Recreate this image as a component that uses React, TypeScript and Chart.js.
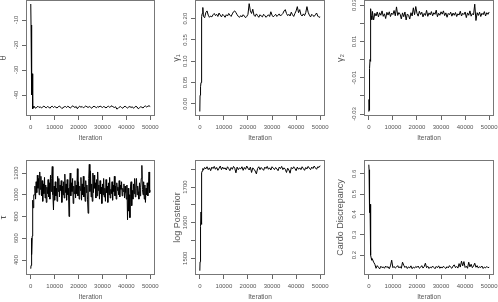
import React, { useEffect, useRef } from 'react';
import { Chart, registerables } from 'chart.js';
Chart.register(...registerables);

const W = 498;
const H = 302;
const FONT = "'Liberation Sans', Arial, Helvetica, sans-serif";
const TEXT = '#555';
const BOX = '#777';

// iteration index: dense during burn-in, then thinned
const burnInIterations = [0, 100, 200, 300, 400, 500, 600, 700, 800, 900, 1000, 1250];
const iterations = [...burnInIterations, ...Array.from({ length: 98 }, (_, i) => 1500 + 500 * i)];
const tauIterations = [...burnInIterations, ...Array.from({ length: 195 }, (_, i) => 1500 + 250 * i)];
const xTicks = [0, 10000, 20000, 30000, 40000, 50000];

const thetaValues = [
  -3.6, -12, -20, -28, -31, -40, -31.5, -40.5, -44, -45.5, -44.6, -45.0,
  -44.6, -45.3, -44.9, -44.5, -45.0, -44.7, -45.2, -44.8, -44.4, -44.9,
  -45.1, -44.6, -44.8, -45.3, -44.7, -44.5, -45.0, -44.6, -44.9, -45.2,
  -44.7, -44.4, -44.9, -45.4, -45.1, -44.7, -44.6, -45.0, -44.5, -44.8,
  -45.2, -44.9, -44.3, -44.7, -45.0, -44.6, -45.5, -44.8, -44.5, -44.9,
  -44.6, -45.1, -44.8, -44.4, -44.7, -45.0, -44.6, -44.9, -45.3, -44.7,
  -44.5, -44.8, -45.1, -44.6, -44.9, -44.4, -44.7, -45.0, -44.6, -44.8,
  -45.2, -44.7, -44.5, -44.9, -44.6, -44.3, -44.8, -45.0, -44.7, -45.6,
  -45.4, -44.9, -44.6, -45.0, -45.3, -44.7, -44.5, -44.9, -45.2, -44.8,
  -44.6, -45.0, -44.7, -45.3, -44.9, -44.5, -44.8, -45.5, -45.1, -44.7,
  -44.9, -45.2, -44.6, -44.4, -44.8, -44.5, -44.3, -44.6,
];

const gamma1Values = [
  -0.018, 0.02, 0.035, 0.02, 0.04, 0.05, 0.085, 0.05, 0.085, 0.205, 0.212, 0.226,
  0.205, 0.202, 0.214, 0.218, 0.208, 0.203, 0.206, 0.204, 0.209, 0.212,
  0.207, 0.21, 0.205, 0.213, 0.208, 0.204, 0.21, 0.207, 0.203, 0.209,
  0.206, 0.212, 0.208, 0.205, 0.211, 0.216, 0.218, 0.214, 0.209, 0.205,
  0.203, 0.207, 0.204, 0.209, 0.206, 0.202, 0.205, 0.21, 0.235, 0.218,
  0.212, 0.222, 0.208, 0.205, 0.211, 0.207, 0.203, 0.209, 0.206, 0.204,
  0.21, 0.207, 0.203, 0.206, 0.209, 0.205, 0.216, 0.208, 0.204, 0.207,
  0.21, 0.205, 0.208, 0.211, 0.206, 0.209, 0.212, 0.218, 0.221, 0.212,
  0.207, 0.21, 0.206, 0.215, 0.209, 0.205, 0.212, 0.218, 0.228, 0.214,
  0.221, 0.209, 0.206, 0.211, 0.207, 0.214, 0.228, 0.215, 0.208, 0.204,
  0.21, 0.207, 0.205, 0.209, 0.213, 0.206, 0.203, 0.204,
];

const gamma2Values = [
  -0.0287, -0.022, -0.028, -0.015, -0.005, 0.0, 0.006, -0.001, 0.005, 0.028, 0.024, 0.022,
  0.0265, 0.0218, 0.0255, 0.024, 0.0262, 0.0235, 0.0258, 0.0244, 0.0268, 0.0238,
  0.0252, 0.0226, 0.026, 0.0245, 0.0263, 0.0237, 0.0256, 0.0248, 0.027, 0.0241,
  0.029, 0.0243, 0.0259, 0.025, 0.0224, 0.0257, 0.0236, 0.0262, 0.0218, 0.0251,
  0.0244, 0.0223, 0.0258, 0.024, 0.0285, 0.0247, 0.0292, 0.0255, 0.0239, 0.0266,
  0.0248, 0.0261, 0.0235, 0.0254, 0.0243, 0.0271, 0.0238, 0.0257, 0.0246, 0.0264,
  0.0241, 0.0258, 0.0249, 0.0272, 0.0236, 0.0255, 0.0244, 0.0263, 0.025, 0.0268,
  0.0242, 0.0257, 0.0233, 0.0254, 0.0247, 0.0261, 0.0239, 0.0256, 0.0244, 0.0259,
  0.0237, 0.0252, 0.0245, 0.0266, 0.024, 0.0255, 0.0248, 0.0262, 0.0231, 0.0257,
  0.0244, 0.0268, 0.0239, 0.0253, 0.0246, 0.0305, 0.0215, 0.0258, 0.0243, 0.0261,
  0.0237, 0.0255, 0.0247, 0.0264, 0.024, 0.0258, 0.0249, 0.0262,
];

const tauValues = [
  320, 350, 430, 400, 600, 450, 620, 780, 720, 950, 880, 1000,
  1000, 1080, 960, 1120, 1020, 1180, 1060, 1150, 1000, 1210,
  1050, 1170, 990, 1130, 940, 1100, 1010, 1160, 970, 1090,
  930, 1070, 1010, 1140, 980, 1110, 960, 1180, 1030, 1150,
  1260, 1000, 860, 1080, 950, 1120, 990, 1060, 940, 1170,
  1030, 1150, 980, 1090, 1040, 1130, 930, 1080, 1000, 1120,
  970, 1190, 1020, 1100, 950, 1140, 1000, 1060, 800, 1080,
  1200, 990, 1110, 1030, 1150, 920, 1080, 1010, 1130, 970,
  1090, 1010, 1240, 990, 1120, 960, 1080, 1040, 1160, 950,
  1100, 1000, 1170, 980, 1070, 940, 1130, 1020, 1090, 960,
  830, 1150, 1280, 1030, 1220, 980, 1100, 940, 1200, 1020,
  1180, 1060, 1110, 970, 1140, 990, 1210, 1040, 1090, 960,
  1130, 1010, 1070, 920, 1100, 1000, 1150, 980, 1060, 940,
  1140, 1020, 1080, 930, 1110, 1000, 1160, 970, 1050, 1010,
  1120, 950, 1090, 1030, 1170, 990, 1080, 960, 1110, 1040,
  1070, 1000, 1130, 980, 1090, 1050, 1120, 990, 1060, 1030,
  1100, 970, 1080, 1020, 960, 1090, 770, 1060, 850, 1000,
  790, 1080, 1120, 900, 1040, 960, 1100, 1010, 1150, 980,
  1060, 1150, 1000, 1080, 1030, 960, 1110, 990, 1070, 1150,
  1270, 1050, 1000, 1120, 960, 1090, 930, 1060, 1000, 1110,
  990, 1080, 1210, 1020, 1040,
];

const logPosteriorValues = [
  1465, 1490, 1520, 1495, 1590, 1630, 1595, 1620, 1700, 1740, 1745, 1752,
  1748, 1755, 1751, 1757, 1749, 1754, 1746, 1756, 1752, 1758,
  1750, 1755, 1747, 1753, 1759, 1749, 1756, 1751, 1754, 1748,
  1757, 1752, 1746, 1755, 1750, 1758, 1753, 1740, 1756, 1749,
  1754, 1751, 1757, 1747, 1755, 1750, 1759, 1753, 1748, 1756,
  1741, 1754, 1750, 1745, 1737, 1752, 1757, 1749, 1755, 1751,
  1747, 1756, 1752, 1758, 1750, 1754, 1748, 1757, 1753, 1749,
  1755, 1751, 1746, 1756, 1752, 1758, 1749, 1754, 1750, 1741,
  1753, 1748, 1739, 1755, 1751, 1757, 1752, 1746, 1756, 1750,
  1754, 1749, 1757, 1752, 1747, 1755, 1751, 1758, 1753, 1749,
  1756, 1752, 1759, 1754, 1750, 1757, 1755, 1760,
];

const cardoValues = [
  0.645, 0.62, 0.51, 0.55, 0.41, 0.45, 0.36, 0.3, 0.23, 0.2, 0.185, 0.175,
  0.18, 0.165, 0.155, 0.135, 0.148, 0.14, 0.132, 0.145, 0.138, 0.142,
  0.135, 0.146, 0.139, 0.143, 0.133, 0.147, 0.175, 0.138, 0.144, 0.136,
  0.141, 0.148, 0.137, 0.143, 0.135, 0.165, 0.15, 0.139, 0.145, 0.134,
  0.142, 0.137, 0.147, 0.133, 0.141, 0.136, 0.144, 0.139, 0.146, 0.135,
  0.14, 0.148, 0.136, 0.143, 0.16, 0.138, 0.145, 0.134, 0.141, 0.137,
  0.146, 0.139, 0.133, 0.144, 0.138, 0.147, 0.135, 0.142, 0.136, 0.145,
  0.139, 0.134, 0.143, 0.137, 0.148, 0.14, 0.135, 0.146, 0.152, 0.138,
  0.144, 0.136, 0.158, 0.141, 0.17, 0.147, 0.168, 0.139, 0.145, 0.135,
  0.165, 0.142, 0.155, 0.138, 0.146, 0.16, 0.14, 0.148, 0.136, 0.143,
  0.139, 0.146, 0.134, 0.141, 0.137, 0.144, 0.138, 0.14,
];

type Panel = {
  xs: number[];
  values: number[];
  title: string;
  ymin: number;
  ymax: number;
  step: number;
  label: (v: number) => string;
  box: [number, number, number, number];
  titleGap: number;
};

const panels: Panel[] = [
  { xs: iterations, values: thetaValues, title: 'θ', ymin: -48.4, ymax: -2.0, step: 10, label: (v) => String(Math.round(v)), box: [26, 0, 155, 116], titleGap: 22.5 },
  { xs: iterations, values: gamma1Values, title: 'γ₁', ymin: -0.0286, ymax: 0.2436, step: 0.05, label: (v) => v.toFixed(2), box: [195, 0, 325, 116], titleGap: 18.5 },
  { xs: iterations, values: gamma2Values, title: 'γ₂', ymin: -0.0311, ymax: 0.0328, step: 0.01, label: (v) => (Math.round(v * 100) % 2 !== 0 ? v.toFixed(2) : ''), box: [364, 0, 494, 116], titleGap: 23 },
  { xs: tauIterations, values: tauValues, title: 'τ', ymin: 262, ymax: 1320, step: 200, label: (v) => String(Math.round(v)), box: [26, 160, 155, 275], titleGap: 22.5 },
  { xs: iterations, values: logPosteriorValues, title: 'log Posterior', ymin: 1453, ymax: 1776, step: 50, label: (v) => (Math.round(v) % 100 === 0 ? String(Math.round(v)) : ''), box: [195, 160, 325, 275], titleGap: 17 },
  { xs: iterations, values: cardoValues, title: 'Cardo Discrepancy', ymin: 0.102, ymax: 0.668, step: 0.1, label: (v) => v.toFixed(1), box: [364, 160, 494, 275], titleGap: 23.5 },
];

const TICK_SIZE = 6;
const XLAB_SIZE = 6.5;
const YLAB_SIZE = 9;
const TICK_LEN = 4;
const XH = 25;

function widestLabel(p: Panel): number {
  const c = document.createElement('canvas').getContext('2d')!;
  c.font = `${TICK_SIZE}px ${FONT}`;
  let w = 0;
  const first = Math.ceil(p.ymin / p.step);
  const last = Math.floor(p.ymax / p.step);
  for (let k = first; k <= last; k++) {
    w = Math.max(w, c.measureText(p.label(k * p.step)).width);
  }
  return w;
}

const boxPlugin = {
  id: 'panelBox',
  afterDraw(chart: any) {
    const { ctx, chartArea: a } = chart;
    ctx.save();
    ctx.strokeStyle = BOX;
    ctx.lineWidth = 1;
    ctx.strokeRect(a.left + 0.5, a.top + 0.5, a.right - a.left - 1, a.bottom - a.top - 1);
    ctx.restore();
  },
};

function makeChart(canvas: HTMLCanvasElement, p: Panel) {
  const [l, t, r, b] = p.box;
  const yw = p.titleGap + YLAB_SIZE / 2;
  const widest = widestLabel(p);
  const yPad = 9.5 - TICK_LEN - widest / 2;
  return new Chart(canvas, {
    type: 'line',
    data: {
      datasets: [
        {
          data: p.xs.map((x, i) => ({ x, y: p.values[i] })),
          borderColor: '#000',
          borderWidth: 1,
          pointRadius: 0,
          tension: 0,
          fill: false,
        },
      ],
    },
    options: {
      animation: false,
      responsive: false,
      events: [],
      layout: { padding: { left: l - yw, top: t, right: W - r, bottom: H - b - XH } },
      plugins: { legend: { display: false }, tooltip: { enabled: false }, title: { display: false } },
      scales: {
        x: {
          type: 'linear',
          min: -2000,
          max: 52000,
          afterBuildTicks: (s: any) => {
            s.ticks = xTicks.map((v) => ({ value: v }));
          },
          ticks: {
            autoSkip: false,
            maxRotation: 0,
            minRotation: 0,
            padding: 4,
            color: TEXT,
            font: { family: FONT, size: TICK_SIZE, lineHeight: 1 },
            callback: (v: any) => String(v),
          },
          grid: { drawOnChartArea: false, drawTicks: true, tickLength: TICK_LEN, tickColor: '#666', tickWidth: 1 },
          border: { display: false },
          title: { display: true, text: 'Iteration', color: TEXT, padding: 0, font: { family: FONT, size: XLAB_SIZE, lineHeight: 1 } },
          afterFit: (s: any) => {
            s.height = XH;
            s.paddingLeft = 0; s.paddingRight = 0; s.paddingTop = 0; s.paddingBottom = 0;
          },
        },
        y: {
          type: 'linear',
          min: p.ymin,
          max: p.ymax,
          ticks: {
            stepSize: p.step,
            includeBounds: false,
            autoSkip: false,
            minRotation: 90,
            maxRotation: 90,
            crossAlign: 'center',
            padding: yPad,
            color: TEXT,
            font: { family: FONT, size: TICK_SIZE, lineHeight: 1 },
            callback: (v: any) => p.label(Number(v)),
          },
          grid: { drawOnChartArea: false, drawTicks: true, tickLength: TICK_LEN, tickColor: '#666', tickWidth: 1 },
          border: { display: false },
          title: { display: true, text: p.title, color: TEXT, padding: 0, font: { family: FONT, size: YLAB_SIZE, lineHeight: 1 } },
          afterFit: (s: any) => {
            s.width = yw;
            s.paddingLeft = 0; s.paddingRight = 0; s.paddingTop = 0; s.paddingBottom = 0;
          },
        },
      },
    } as any,
    plugins: [boxPlugin],
  });
}

export default function App() {
  const refs = useRef<(HTMLCanvasElement | null)[]>([]);
  useEffect(() => {
    const charts = panels.map((p, i) => makeChart(refs.current[i] as HTMLCanvasElement, p));
    return () => charts.forEach((c) => c.destroy());
  }, []);
  return (
    <div style={{ position: 'fixed', left: 0, top: 0, width: W, height: H, background: '#fff', overflow: 'hidden' }}>
      {panels.map((p, i) => (
        <canvas
          key={i}
          ref={(el) => {
            refs.current[i] = el;
          }}
          width={W}
          height={H}
          style={{ position: 'absolute', left: 0, top: 0, width: W, height: H }}
        />
      ))}
    </div>
  );
}
